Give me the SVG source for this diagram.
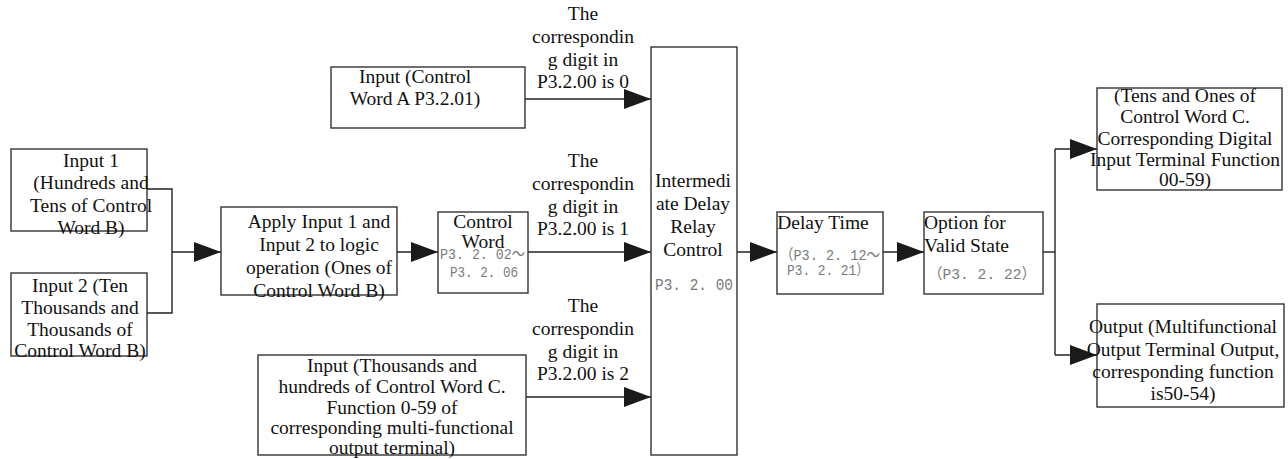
<svg xmlns="http://www.w3.org/2000/svg" width="1288" height="459" viewBox="0 0 1288 459">
<style>
.box{fill:#fff;stroke:#333;stroke-width:1.4}
.t{font-family:'Liberation Serif','Times New Roman',serif;font-size:19.5px;fill:#111;text-anchor:middle}
.ts{font-family:'Liberation Serif','Times New Roman',serif;font-size:19.5px;fill:#111}
.g{font-family:'Liberation Mono','Noto Sans CJK SC',monospace;font-size:15px;fill:#7a7a7a}
.c{fill:none;stroke:#222;stroke-width:1.4}
</style>
<defs>
<marker id="ah" markerUnits="userSpaceOnUse" markerWidth="28" markerHeight="20" refX="27" refY="10" orient="auto">
<path d="M0,0 L27,10 L0,20 z" fill="#1a1a1a"/>
</marker>
</defs>
<g id="connectors">
<polyline class="c" points="147,189 172,189 172,313 147,313"/>
<line class="c" x1="172" y1="252" x2="221" y2="252" marker-end="url(#ah)"/>
<line class="c" x1="397" y1="252" x2="438" y2="252" marker-end="url(#ah)"/>
<line class="c" x1="525" y1="99" x2="651" y2="99" marker-end="url(#ah)"/>
<line class="c" x1="528" y1="252" x2="651" y2="252" marker-end="url(#ah)"/>
<line class="c" x1="526" y1="397" x2="651" y2="397" marker-end="url(#ah)"/>
<line class="c" x1="737" y1="252" x2="777" y2="252" marker-end="url(#ah)"/>
<line class="c" x1="883" y1="252" x2="924" y2="252" marker-end="url(#ah)"/>
<polyline class="c" points="1043,252 1055,252"/>
<polyline class="c" points="1055,149 1055,355"/>
<line class="c" x1="1055" y1="149" x2="1097" y2="149" marker-end="url(#ah)"/>
<line class="c" x1="1055" y1="355" x2="1097" y2="355" marker-end="url(#ah)"/>
<text class="t"><tspan x="583" y="20">The</tspan><tspan x="583" y="43">correspondin</tspan><tspan x="583" y="66">g digit in</tspan><tspan x="583" y="88">P3.2.00 is 0</tspan></text>
<text class="t"><tspan x="583" y="167">The</tspan><tspan x="583" y="190">correspondin</tspan><tspan x="583" y="213">g digit in</tspan><tspan x="583" y="235">P3.2.00 is 1</tspan></text>
<text class="t"><tspan x="583" y="312">The</tspan><tspan x="583" y="335">correspondin</tspan><tspan x="583" y="358">g digit in</tspan><tspan x="583" y="380">P3.2.00 is 2</tspan></text>
</g>
<g id="input1">
<rect class="box" x="11" y="149" width="136" height="82"/>
<text class="t"><tspan x="91" y="167">Input 1</tspan><tspan x="91" y="189">(Hundreds and</tspan><tspan x="91" y="212">Tens of Control</tspan><tspan x="91" y="234">Word B)</tspan></text>
</g>
<g id="input2">
<rect class="box" x="11" y="273" width="136" height="83"/>
<text class="t"><tspan x="80" y="292">Input 2 (Ten</tspan><tspan x="80" y="314">Thousands and</tspan><tspan x="80" y="336">Thousands of</tspan><tspan x="80" y="357">Control Word B)</tspan></text>
</g>
<g id="apply">
<rect class="box" x="221" y="207" width="176" height="88"/>
<text class="t"><tspan x="319" y="228">Apply Input 1 and</tspan><tspan x="319" y="251">Input 2 to logic</tspan><tspan x="319" y="274">operation (Ones of</tspan><tspan x="319" y="297">Control Word B)</tspan></text>
</g>
<g id="controlword">
<rect class="box" x="438" y="212" width="90" height="81"/>
<text class="t"><tspan x="483" y="228">Control</tspan><tspan x="483" y="248">Word</tspan></text>
<text class="g" x="440" y="259" textLength="85" lengthAdjust="spacingAndGlyphs">P3. 2. 02～</text>
<text class="g" x="450" y="277" textLength="68" lengthAdjust="spacingAndGlyphs">P3. 2. 06</text>
</g>
<g id="inputA">
<rect class="box" x="331" y="67" width="194" height="61"/>
<text class="t"><tspan x="415" y="83">Input (Control</tspan><tspan x="415" y="105">Word A P3.2.01)</tspan></text>
</g>
<g id="inputC">
<rect class="box" x="258" y="355" width="268" height="100"/>
<text class="t"><tspan x="392" y="372">Input (Thousands and</tspan><tspan x="392" y="393">hundreds of Control Word C.</tspan><tspan x="392" y="414">Function 0-59 of</tspan><tspan x="392" y="434">corresponding multi-functional</tspan><tspan x="392" y="454">output terminal)</tspan></text>
</g>
<g id="relay">
<rect class="box" x="651" y="47" width="86" height="408"/>
<text class="t"><tspan x="693" y="187">Intermedi</tspan><tspan x="693" y="210">ate Delay</tspan><tspan x="693" y="233">Relay</tspan><tspan x="693" y="256">Control</tspan></text>
<text class="g" x="655" y="290" style="font-size:17px" textLength="78" lengthAdjust="spacingAndGlyphs">P3. 2. 00</text>
</g>
<g id="delay">
<rect class="box" x="777" y="212" width="106" height="82"/>
<text class="t" x="823" y="229">Delay Time</text>
<text class="g" x="780" y="260" textLength="100" lengthAdjust="spacingAndGlyphs">（P3. 2. 12～</text>
<text class="g" x="787" y="275" textLength="82" lengthAdjust="spacingAndGlyphs">P3. 2. 21）</text>
</g>
<g id="option">
<rect class="box" x="924" y="212" width="119" height="82"/>
<text class="ts"><tspan x="924" y="229">Option for</tspan><tspan x="924" y="252">Valid State</tspan></text>
<text class="g" x="928" y="279" textLength="108" lengthAdjust="spacingAndGlyphs">（P3. 2. 22）</text>
</g>
<g id="digitalInput">
<rect class="box" x="1097" y="88" width="185" height="102"/>
<text class="t"><tspan x="1185" y="102">(Tens and Ones of</tspan><tspan x="1185" y="123">Control Word C.</tspan><tspan x="1185" y="145">Corresponding Digital</tspan><tspan x="1185" y="166">Input Terminal Function</tspan><tspan x="1185" y="186">00-59)</tspan></text>
</g>
<g id="output">
<rect class="box" x="1097" y="304" width="187" height="103"/>
<text class="t"><tspan x="1183" y="333">Output (Multifunctional</tspan><tspan x="1183" y="356">Output Terminal Output,</tspan><tspan x="1183" y="378">corresponding function</tspan><tspan x="1183" y="400">is50-54)</tspan></text>
</g>
</svg>
